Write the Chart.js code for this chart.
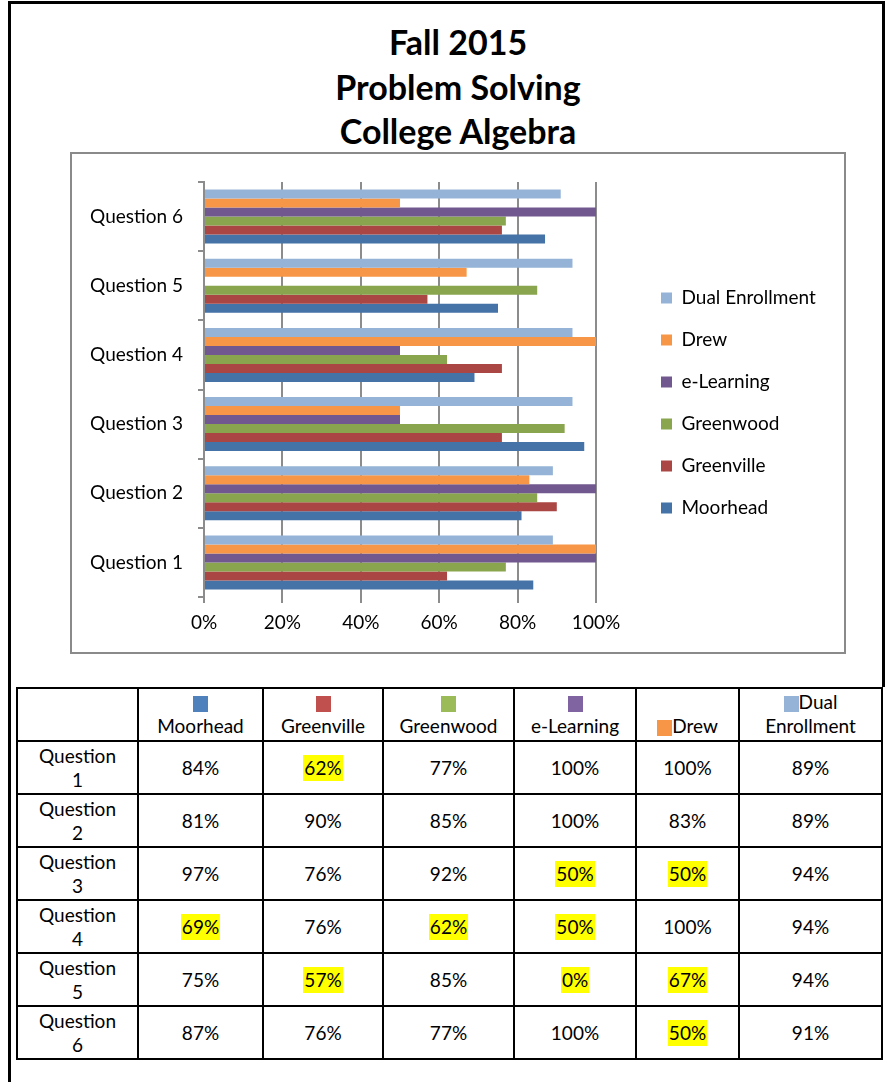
<!DOCTYPE html>
<html>
<head>
<meta charset="utf-8">
<script src="https://cdn.jsdelivr.net/npm/chart.js"></script>
<style>
  body { margin: 0; background: #fff; font-family: Lato, sans-serif; color: #000; }
  #frame { position: absolute; left: 8px; top: 1px; width: 871px; height: 683px; border: 3px solid #000; border-bottom: none; }
  #frameLeft { position: absolute; left: 8px; top: 1px; width: 3px; height: 1081px; background: #000; }
  #title { position: absolute; left: 70px; width: 776px; top: 20px; text-align: center; font-weight: bold; font-size: 34px; line-height: 44.5px; }
  #box { position: absolute; left: 70px; top: 152px; width: 772px; height: 498px; border: 2px solid #8a8a8a; background: #fff; }
  #tbl { position: absolute; left: 16px; top: 687px; border-collapse: collapse; table-layout: fixed; font-size: 19px; }
  #tbl td { border: 2px solid #000; height: 51px; padding: 0; text-align: center; vertical-align: middle; line-height: 24px; }
  #tbl tr.head td { height: 49px; vertical-align: bottom; padding-bottom: 2px; }
  .sw { display: inline-block; width: 15px; height: 16px; vertical-align: -3px; }
  .hl { display: inline-block; background: #ffff00; line-height: 26px; padding: 0 1px; }
</style>
</head>
<body>
<div id="frame"></div>
<div id="frameLeft"></div>
<div id="title">Fall 2015<br>Problem Solving<br>College Algebra</div>
<div id="box"><canvas id="myChart" width="772" height="498"></canvas></div>
<table id="tbl"></table>
<script>
const questions = ['Question 1', 'Question 2', 'Question 3', 'Question 4', 'Question 5', 'Question 6'];
const moorhead = [84, 81, 97, 69, 75, 87];
const greenville = [62, 90, 76, 76, 57, 76];
const greenwood = [77, 85, 92, 62, 85, 77];
const eLearning = [100, 100, 50, 50, 0, 100];
const drew = [100, 83, 50, 100, 67, 50];
const dualEnrollment = [89, 89, 94, 94, 94, 91];
const xTicks = [0, 20, 40, 60, 80, 100];

// columnas de la tabla (orden de la tabla)
const campuses = [
  { name: 'Moorhead', data: moorhead, bar: '#4572a7', swatch: '#4f81bd' },
  { name: 'Greenville', data: greenville, bar: '#aa4643', swatch: '#c0504d' },
  { name: 'Greenwood', data: greenwood, bar: '#89a54e', swatch: '#9bbb59' },
  { name: 'e-Learning', data: eLearning, bar: '#71588f', swatch: '#8064a2' },
  { name: 'Drew', data: drew, bar: '#f79646', swatch: '#f79646' },
  { name: 'Dual Enrollment', data: dualEnrollment, bar: '#95b3d7', swatch: '#95b3d7' }
];
const colWidths = [121, 125, 120, 131, 122, 103, 143];

const font = { family: 'Lato', size: 19 };
const gridColor = '#8c8c8c';

// mueve la leyenda a la derecha como en Excel, centrada en todo el canvas
const legendShift = {
  id: 'legendShift',
  afterLayout(chart) {
    const lg = chart.legend;
    lg.left = chart.chartArea.right + 42;
    lg.right = chart.width;
    lg.width = lg.right - lg.left;
    lg.top = 0;
    lg.bottom = chart.height;
    lg.height = chart.height;
  }
};

new Chart('myChart', {
  type: 'bar',
  data: {
    labels: questions,
    datasets: campuses.slice().reverse().map(c => ({
      label: c.name,
      data: c.data,
      backgroundColor: c.bar,
      borderWidth: 0
    }))
  },
  options: {
    indexAxis: 'y',
    responsive: false,
    animation: false,
    layout: { padding: { top: 28, right: 98, left: 0, bottom: 0 } },
    datasets: { bar: { categoryPercentage: 0.78, barPercentage: 1 } },
    scales: {
      x: {
        min: 0,
        max: 100,
        afterBuildTicks: s => { s.ticks = xTicks.map(v => ({ value: v })); },
        afterFit: s => { s.height = 55; },
        ticks: { font: font, color: '#000', padding: 8, callback: v => v + '%' },
        grid: { color: gridColor, lineWidth: 2, tickLength: 6 },
        border: { display: false }
      },
      y: {
        reverse: true,
        afterFit: s => { s.width = 132; },
        ticks: { font: font, color: '#000', padding: 15 },
        grid: { drawOnChartArea: false, color: gridColor, lineWidth: 2, tickLength: 6 },
        border: { color: gridColor, width: 2 }
      }
    },
    plugins: {
      legend: {
        position: 'right',
        maxWidth: 150,
        labels: { font: font, color: '#000', boxWidth: 11, boxHeight: 11, padding: 23 }
      },
      tooltip: { enabled: false }
    }
  },
  plugins: [legendShift]
});

// tabla
const tbl = document.getElementById('tbl');
let html = '<colgroup>' + colWidths.map(w => `<col style="width:${w}px">`).join('') + '</colgroup>';
html += '<tr class="head"><td></td>';
campuses.forEach(c => {
  const sw = `<span class="sw" style="background:${c.swatch}"></span>`;
  if (c.name == 'Drew') {
    html += `<td>${sw}${c.name}</td>`;
  } else if (c.name == 'Dual Enrollment') {
    html += `<td>${sw}Dual<br>Enrollment</td>`;
  } else {
    html += `<td>${sw}<br>${c.name}</td>`;
  }
});
html += '</tr>';
questions.forEach((q, i) => {
  html += `<tr><td>${q.replace(' ', '<br>')}</td>`;
  campuses.forEach(c => {
    const v = c.data[i];
    const txt = v + '%';
    html += v < 70 ? `<td><span class="hl">${txt}</span></td>` : `<td>${txt}</td>`;
  });
  html += '</tr>';
});
tbl.innerHTML = html;
</script>
</body>
</html>
